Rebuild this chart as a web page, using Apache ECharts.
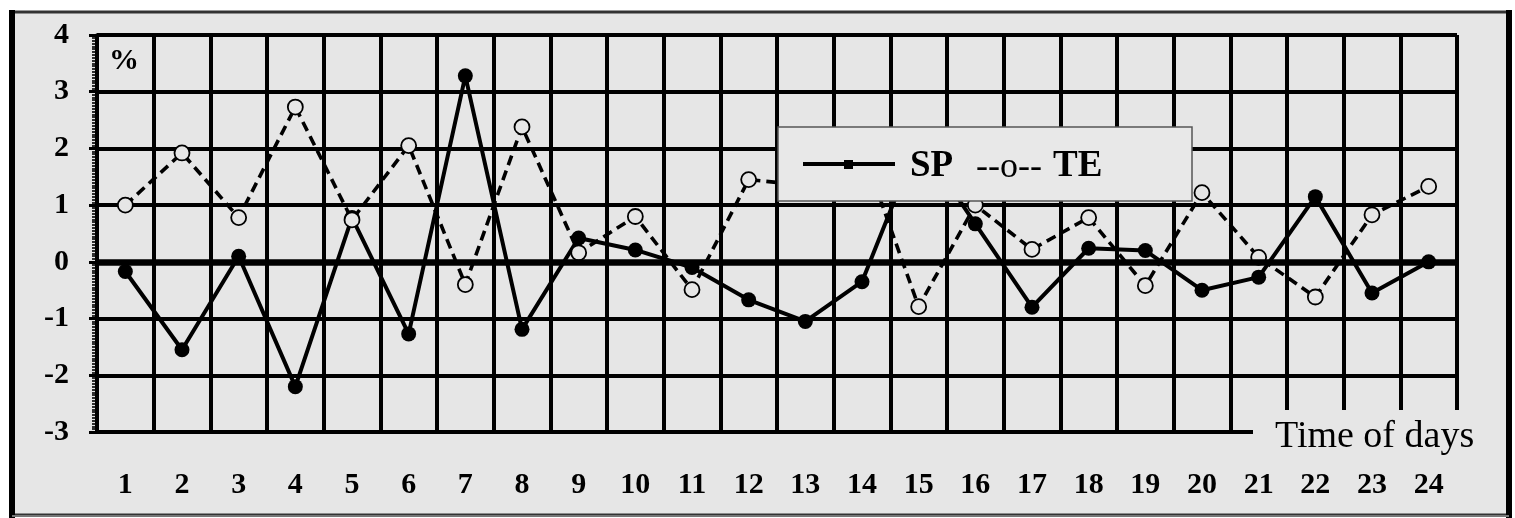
<!DOCTYPE html>
<html><head><meta charset="utf-8">
<script src="https://cdn.jsdelivr.net/npm/echarts@6/dist/echarts.min.js"></script>
<style>html,body{margin:0;padding:0;background:#fff}#c{width:1515px;height:518px}</style>
</head><body><div id="c"></div>
<script>
const days = ['1','2','3','4','5','6','7','8','9','10','11','12','13','14','15','16','17','18','19','20','21','22','23','24'];
const sp = [-0.17,-1.55,0.1,-2.2,0.78,-1.27,3.28,-1.19,0.42,0.21,-0.1,-0.67,-1.05,-0.35,2.15,0.67,-0.8,0.24,0.2,-0.5,-0.27,1.15,-0.55,0.0];
const te = [1.0,1.92,0.78,2.73,0.74,2.05,-0.4,2.38,0.16,0.8,-0.49,1.45,1.35,2.0,-0.79,1.0,0.22,0.78,-0.42,1.22,0.08,-0.62,0.83,1.33];
const yMin = -3, yMax = 4;
const seriesNames = ['SP','TE'];
const unitLabel = '%';
const xName = 'Time of days';

const FONT = "'Liberation Serif','Times New Roman',serif";
const BG = '#e6e6e6';
const chart = echarts.init(document.getElementById('c'), null, {renderer:'canvas'});
chart.setOption({
  backgroundColor: '#ffffff',
  animation: false,
  grid: {left: 97, right: 58, top: 35, bottom: 86, containLabel: false},
  xAxis: {
    type: 'category', data: days, boundaryGap: true,
    axisLine: {show: true, lineStyle: {color: '#000', width: 4}},
    axisTick: {show: false},
    axisLabel: {color: '#000', fontFamily: FONT, fontWeight: 'bold', fontSize: 30, margin: 38, interval: 0},
    splitLine: {show: true, lineStyle: {color: '#000', width: 4}}
  },
  yAxis: {
    type: 'value', min: yMin, max: yMax, interval: 1,
    axisLine: {show: true, lineStyle: {color: '#000', width: 3.5}},
    axisTick: {show: true, length: 8, lineStyle: {color: '#000', width: 3}},
    minorTick: {show: true, splitNumber: 20, length: 5, lineStyle: {color: '#000', width: 1.6}},
    axisLabel: {color: '#000', fontFamily: FONT, fontWeight: 'bold', fontSize: 30, margin: 28},
    splitLine: {show: true, lineStyle: {color: '#000', width: 4}}
  },
  series: [
    {
      type: 'line', data: [], z: 1, silent: true,
      markLine: {silent: true, symbol: 'none', label: {show: false},
        lineStyle: {color: '#000', width: 6.5, type: 'solid'}, data: [{yAxis: 0}]}
    },
    {
      name: seriesNames[0], type: 'line', data: sp, z: 3,
      symbol: 'circle', symbolSize: 15,
      itemStyle: {color: '#000'},
      lineStyle: {color: '#000', width: 4}
    },
    {
      name: seriesNames[1], type: 'line', data: te, z: 4,
      symbol: 'circle', symbolSize: 15,
      itemStyle: {color: BG, borderColor: '#000', borderWidth: 1.8},
      lineStyle: {color: '#000', width: 3.6, type: [10, 6]}
    }
  ],
  graphic: [
    {type: 'rect', z: -100, shape: {x: 12, y: 12, width: 1497, height: 503}, style: {fill: BG, stroke: '#333', lineWidth: 3}},
    {type: 'line', z: -99, shape: {x1: 12, y1: 10, x2: 12, y2: 518}, style: {stroke: '#000', lineWidth: 6}},
    {type: 'line', z: -99, shape: {x1: 1509, y1: 10, x2: 1509, y2: 518}, style: {stroke: '#000', lineWidth: 6}},
    {type: 'line', z: -99, shape: {x1: 12, y1: 516, x2: 1509, y2: 516}, style: {stroke: '#777', lineWidth: 2}},
    {type: 'text', z: 60, style: {x: 109, y: 61, text: unitLabel, font: "bold 30px " + FONT, fill: '#000', verticalAlign: 'middle'}},
    // x-axis name box
    {type: 'rect', z: 50, shape: {x: 1253, y: 410, width: 220, height: 50}, style: {fill: BG}},
    {type: 'text', z: 60, style: {x: 1275, y: 437, text: xName, font: "38px " + FONT, fill: '#000', verticalAlign: 'middle'}},
    // legend box
    {type: 'rect', z: 50, shape: {x: 778, y: 127, width: 414, height: 74}, style: {fill: '#e8e8e8', stroke: '#555', lineWidth: 1.5}},
    {type: 'line', z: 60, shape: {x1: 803, y1: 164, x2: 895, y2: 164}, style: {stroke: '#000', lineWidth: 4}},
    {type: 'rect', z: 61, shape: {x: 844, y: 160, width: 9, height: 9}, style: {fill: '#000'}},
    {type: 'text', z: 60, style: {x: 910, y: 166, text: seriesNames[0], font: "bold 37px " + FONT, fill: '#000', verticalAlign: 'middle'}},
    {type: 'text', z: 60, style: {x: 976, y: 168, text: '--o--', font: "36px " + FONT, fill: '#000', verticalAlign: 'middle'}},
    {type: 'text', z: 60, style: {x: 1053, y: 166, text: seriesNames[1], font: "bold 37px " + FONT, fill: '#000', verticalAlign: 'middle'}}
  ]
});
</script></body></html>
